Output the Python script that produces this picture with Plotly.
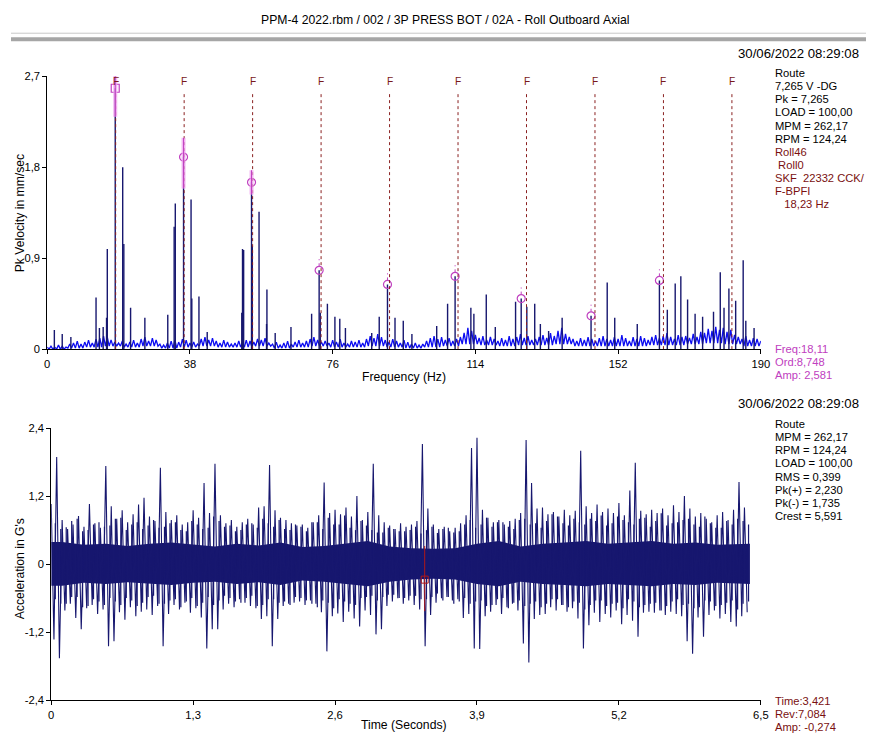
import plotly.graph_objects as go

# the page shows the figure at about (8, 13) and the photo comes out ~0.984 scale,
# so positions read off the reference are mapped through that
S = 0.984
SHIFT_X = 4
OFF_X, OFF_Y = 8, 13
FW, FH = 872, 742

title_text = "PPM-4 2022.rbm / 002 / 3P PRESS BOT / 02A - Roll Outboard Axial"
stamp = "30/06/2022 08:29:08"

# ---- spectrum (Pk velocity, mm/sec) ----
bpfi_hz = 18.23
harmonics = list(range(1, 11))

# noise floor tops, one per Hz (0..190)
floor_hi = [
    0.02, 0.03, 0.02, 0.04, 0.03, 0.02, 0.05, 0.06, 0.08, 0.05,
    0.07, 0.09, 0.06, 0.10, 0.11, 0.13, 0.12, 0.09, 0.07, 0.06,
    0.08, 0.05, 0.07, 0.09, 0.06, 0.10, 0.12, 0.08, 0.11, 0.09,
    0.05, 0.04, 0.06, 0.08, 0.09, 0.07, 0.10, 0.09, 0.06, 0.07,
    0.05, 0.10, 0.12, 0.09, 0.11, 0.08, 0.06, 0.09, 0.07, 0.05,
    0.06, 0.08, 0.07, 0.09, 0.08, 0.07, 0.10, 0.09, 0.11, 0.06,
    0.05, 0.07, 0.04, 0.06, 0.08, 0.05, 0.07, 0.09, 0.06, 0.08,
    0.10, 0.12, 0.09, 0.07, 0.08, 0.06, 0.09, 0.07, 0.10, 0.06,
    0.05, 0.08, 0.07, 0.09, 0.06, 0.10, 0.13, 0.11, 0.15, 0.12,
    0.09, 0.07, 0.10, 0.08, 0.06, 0.09, 0.07, 0.05, 0.06, 0.04,
    0.05, 0.08, 0.11, 0.13, 0.10, 0.12, 0.09, 0.11, 0.08, 0.10,
    0.12, 0.16, 0.21, 0.18, 0.14, 0.11, 0.13, 0.09, 0.12, 0.10,
    0.08, 0.11, 0.09, 0.13, 0.10, 0.12, 0.15, 0.11, 0.13, 0.09,
    0.10, 0.12, 0.14, 0.11, 0.16, 0.13, 0.18, 0.21, 0.15, 0.12,
    0.10, 0.08, 0.11, 0.09, 0.12, 0.10, 0.08, 0.11, 0.13, 0.10,
    0.09, 0.12, 0.10, 0.14, 0.11, 0.08, 0.12, 0.10, 0.13, 0.11,
    0.09, 0.12, 0.14, 0.11, 0.13, 0.16, 0.12, 0.10, 0.14, 0.12,
    0.13, 0.11, 0.15, 0.12, 0.17, 0.16, 0.20, 0.18, 0.22, 0.19,
    0.21, 0.17, 0.19, 0.14, 0.12, 0.10, 0.13, 0.09, 0.11, 0.10,
    0.08,
]
# noise floor dips, one per 5 Hz band
floor_lo = [
    0.00, 0.01, 0.02, 0.03, 0.02, 0.03, 0.01, 0.02, 0.03, 0.02,
    0.02, 0.03, 0.01, 0.02, 0.03, 0.02, 0.02, 0.03, 0.02, 0.01,
    0.02, 0.03, 0.05, 0.04, 0.03, 0.04, 0.04, 0.05, 0.03, 0.03,
    0.03, 0.03, 0.04, 0.04, 0.05, 0.06, 0.05, 0.03,
]

peak_freq = [1.9, 4.0, 6.3, 13.0, 13.9, 14.9, 15.8, 16.0, 18.11, 20.1,
             20.4, 22.2, 26.0, 32.1, 33.8, 34.1, 36.3, 38.3, 38.5, 40.4,
             42.6, 51.8, 52.0, 52.3, 54.4, 54.6, 56.4, 58.4, 58.5, 60.7,
             64.9, 70.4, 72.4, 72.7, 74.6, 76.6, 77.9, 79.4, 86.4, 88.4,
             90.6, 92.6, 94.8, 97.1, 103.7, 106.6, 108.6, 112.8, 113.6, 116.9,
             119.3, 124.7, 126.2, 127.7, 129.8, 131.3, 133.5, 137.1, 144.8, 149.1,
             151.1, 157.1, 163.0, 165.1, 167.2, 168.7, 170.5, 172.5, 174.5, 177.4,
             179.2, 180.2, 181.5, 183.3, 185.3, 186.0, 188.2]
peak_amp = [0.19, 0.15, 0.12, 0.51, 0.21, 0.22, 0.31, 0.99, 2.581, 1.80,
            1.04, 0.41, 0.31, 0.34, 1.21, 1.44, 1.90, 1.48, 0.50, 0.52,
            0.17, 0.36, 0.99, 0.98, 1.65, 1.02, 1.36, 0.25, 0.59, 0.16,
            0.22, 0.35, 0.78, 0.36, 0.45, 0.32, 0.30, 0.21, 0.16, 0.32,
            0.64, 0.31, 0.28, 0.15, 0.23, 0.45, 0.72, 0.41, 0.35, 0.54,
            0.22, 0.47, 0.50, 0.42, 0.45, 0.25, 0.18, 0.31, 0.33, 0.66,
            0.31, 0.25, 0.68, 0.39, 0.65, 0.72, 0.49, 0.35, 0.32, 0.37,
            0.76, 0.41, 0.60, 0.48, 0.88, 0.28, 0.21]

marker_freq = [18.11, 36.3, 54.4, 72.4, 90.6, 108.6, 126.2, 144.8, 163.0]
marker_amp = [2.581, 1.90, 1.65, 0.78, 0.64, 0.72, 0.50, 0.33, 0.68]
glow_lo = [2.30, 1.59, 1.53]
glow_hi = [2.75, 2.09, 1.77]

info_top = ["Route", "7,265 V -DG", "Pk = 7,265", "LOAD = 100,00",
            "MPM = 262,17", "RPM = 124,24"]
info_top_bearing = ["Roll46", " Roll0", "SKF  22332 CCK/", "F-BPFI", "   18,23 Hz"]
cursor_top = ["Freq:18,11", "Ord:8,748", "Amp: 2,581"]

# ---- time waveform (G's), extremes per 0.05 s ----
wave_step = 0.05
wave_hi = [
    1.06, 1.89, 0.78, 0.62, 0.70, 0.85, 0.66, 1.06, 0.72, 0.64,
    1.73, 1.02, 0.80, 0.95, 0.74, 0.88, 1.05, 1.17, 0.84, 0.76,
    1.70, 0.92, 0.78, 0.86, 0.70, 0.74, 0.95, 0.82, 1.43, 0.90,
    1.77, 0.86, 0.72, 0.78, 0.66, 0.74, 0.80, 0.70, 1.00, 1.02,
    1.75, 0.95, 0.82, 0.78, 0.72, 0.68, 0.70, 0.64, 0.74, 0.86,
    1.44, 0.90, 0.96, 0.88, 1.00, 0.84, 1.20, 0.78, 0.92, 1.77,
    0.86, 0.74, 0.68, 0.62, 0.72, 0.66, 0.70, 0.76, 2.12, 0.98,
    0.70, 0.62, 0.66, 0.58, 0.64, 0.72, 0.86, 2.05, 2.23, 0.96,
    0.82, 0.74, 0.78, 0.70, 0.76, 0.80, 0.90, 2.19, 1.43, 0.98,
    1.00, 0.88, 0.92, 0.84, 0.96, 0.86, 0.94, 2.00, 1.02, 0.90,
    1.05, 0.92, 0.98, 0.90, 1.08, 0.86, 1.30, 1.79, 0.94, 0.88,
    0.96, 0.90, 0.98, 0.86, 1.04, 0.92, 1.20, 0.98, 0.84, 0.90,
    0.80, 0.74, 0.86, 0.92, 0.78, 0.96, 1.45, 1.00,
]
wave_lo = [
    -1.33, -1.66, -0.82, -0.70, -0.95, -1.15, -0.78, -0.72, -0.88, -0.80,
    -1.45, -1.36, -0.85, -0.98, -0.76, -0.92, -0.84, -0.80, -0.90, -0.74,
    -1.45, -0.88, -0.72, -0.80, -0.68, -0.86, -0.78, -0.94, -1.49, -1.15,
    -1.15, -0.80, -0.70, -0.76, -0.62, -0.68, -0.74, -0.78, -0.97, -0.92,
    -1.45, -0.97, -0.74, -0.70, -0.68, -0.66, -0.72, -0.64, -0.70, -0.85,
    -1.54, -0.92, -0.87, -1.02, -0.84, -0.96, -1.10, -0.82, -0.90, -1.24,
    -1.15, -0.74, -0.66, -0.60, -0.70, -0.64, -0.72, -0.80, -1.45, -0.90,
    -0.68, -0.60, -0.58, -0.64, -0.62, -0.95, -0.88, -1.49, -1.50, -0.92,
    -0.84, -0.72, -0.88, -0.76, -0.70, -0.82, -1.40, -1.735, -0.97, -0.90,
    -0.88, -0.76, -0.82, -0.72, -0.84, -0.78, -0.96, -1.49, -1.08, -0.86,
    -1.02, -0.88, -0.94, -0.82, -1.06, -0.90, -1.00, -1.28, -0.86, -0.84,
    -0.86, -0.82, -0.90, -0.84, -0.88, -0.92, -1.36, -1.58, -0.94, -1.28,
    -0.90, -0.82, -0.96, -0.88, -1.02, -1.10, -0.92, -0.85,
]
# smaller in-between spikes, two per 0.1 s
sub_step = 0.1
sub_a_hi = [0.72, 0.65, 0.80, 0.60, 0.74, 0.68, 0.82, 0.70, 0.62, 0.78,
            0.66, 0.74, 0.58, 0.70, 0.64, 0.76, 0.68, 0.60, 0.72, 0.80,
            0.66, 0.62, 0.70, 0.58, 0.74, 0.82, 0.70, 0.64, 0.76, 0.60,
            0.56, 0.62, 0.58, 0.66, 0.60, 0.55, 0.64, 0.58, 0.78, 0.70,
            0.66, 0.74, 0.62, 0.80, 0.72, 0.76, 0.84, 0.68, 0.74, 0.80,
            0.86, 0.72, 0.78, 0.70, 0.82, 0.76, 0.68, 0.74, 0.80, 0.66,
            0.72, 0.64, 0.70, 0.76]
sub_a_lo = [-0.62, -0.70, -0.58, -0.74, -0.66, -0.60, -0.72, -0.64, -0.68, -0.56,
            -0.70, -0.62, -0.66, -0.74, -0.58, -0.64, -0.60, -0.68, -0.56, -0.72,
            -0.62, -0.66, -0.58, -0.64, -0.76, -0.68, -0.62, -0.70, -0.60, -0.56,
            -0.58, -0.54, -0.60, -0.56, -0.62, -0.52, -0.58, -0.66, -0.70, -0.64,
            -0.72, -0.60, -0.68, -0.74, -0.66, -0.70, -0.62, -0.76, -0.68, -0.72,
            -0.64, -0.70, -0.78, -0.66, -0.72, -0.68, -0.74, -0.62, -0.70, -0.76,
            -0.66, -0.72, -0.64, -0.70]
sub_b_hi = [0.62, 0.76, 0.58, 0.70, 0.66, 0.80, 0.60, 0.74, 0.68, 0.64,
            0.72, 0.60, 0.76, 0.62, 0.84, 0.66, 0.58, 0.70, 0.64, 0.72,
            0.78, 0.60, 0.66, 0.74, 0.62, 0.70, 0.86, 0.60, 0.68, 0.56,
            0.64, 0.58, 0.60, 0.54, 0.66, 0.62, 0.56, 0.70, 0.64, 0.82,
            0.74, 0.66, 0.78, 0.70, 0.64, 0.88, 0.72, 0.80, 0.70, 0.76,
            0.68, 0.84, 0.74, 0.80, 0.66, 0.90, 0.72, 0.78, 0.70, 0.84,
            0.64, 0.76, 0.80, 0.70]
sub_b_lo = [-0.70, -0.58, -0.76, -0.62, -0.72, -0.66, -0.60, -0.74, -0.58, -0.70,
            -0.64, -0.76, -0.60, -0.68, -0.72, -0.56, -0.66, -0.60, -0.74, -0.62,
            -0.68, -0.72, -0.60, -0.70, -0.64, -0.78, -0.66, -0.72, -0.58, -0.64,
            -0.54, -0.60, -0.56, -0.62, -0.58, -0.64, -0.70, -0.60, -0.66, -0.74,
            -0.62, -0.78, -0.64, -0.70, -0.76, -0.62, -0.72, -0.66, -0.80, -0.64,
            -0.74, -0.68, -0.62, -0.76, -0.70, -0.82, -0.66, -0.72, -0.78, -0.64,
            -0.74, -0.68, -0.80, -0.66]
# dense core of the waveform, per 0.2 s
core_step = 0.2
core_hi = [0.39, 0.34, 0.36, 0.32, 0.36, 0.38, 0.34, 0.31, 0.36, 0.33,
           0.38, 0.30, 0.32, 0.36, 0.41, 0.31, 0.28, 0.27, 0.28, 0.36,
           0.41, 0.31, 0.36, 0.38, 0.41, 0.36, 0.38, 0.41, 0.36, 0.38,
           0.34, 0.36]
core_lo = [-0.38, -0.33, -0.35, -0.32, -0.35, -0.37, -0.33, -0.31, -0.35, -0.32,
           -0.37, -0.29, -0.31, -0.35, -0.39, -0.31, -0.27, -0.26, -0.27, -0.35,
           -0.39, -0.31, -0.35, -0.37, -0.39, -0.35, -0.37, -0.39, -0.35, -0.37,
           -0.33, -0.35]

cursor_time = 3.421
cursor_amp = -0.274
cursor_span = [0.32, -0.83]

info_bot = ["Route", "MPM = 262,17", "RPM = 124,24", "LOAD = 100,00",
            "RMS = 0,399", "Pk(+) = 2,230", "Pk(-) = 1,735", "Crest = 5,591"]
cursor_bot = ["Time:3,421", "Rev:7,084", "Amp: -0,274"]

FONT = "Liberation Sans, Arial, sans-serif"
NAVY = "#17176f"
BLUE = "#0c0cf0"
MAG = "#c040c0"
DKRED = "#7a1010"


def px(p):
    return ((p - SHIFT_X) / S - OFF_X) / FW


def py(p):
    return 1 - (p / S - OFF_Y) / FH


def fs(size):
    return round(size / S, 1)


fig = go.Figure()

# spectrum floor: tops and dips in turn
fx, fy = [], []
for k in range(190):
    fx += [k, k + 0.5]
    fy += [floor_hi[k], floor_lo[k // 5]]
fx.append(190)
fy.append(floor_hi[190])
fig.add_trace(go.Scatter(x=fx, y=fy, mode="lines", line=dict(color=BLUE, width=1.3),
                         xaxis="x", yaxis="y", hoverinfo="skip"))

sx, sy = [], []
for f, a in zip(peak_freq, peak_amp):
    sx += [f, f, None]
    sy += [0, a, None]
fig.add_trace(go.Scatter(x=sx, y=sy, mode="lines", line=dict(color=NAVY, width=1.4),
                         xaxis="x", yaxis="y", hoverinfo="skip"))

# harmonic cursor lines
for n in harmonics:
    f = n * bpfi_hz
    fig.add_shape(type="line", xref="x", yref="y", x0=f, x1=f, y0=0, y1=2.53,
                  line=dict(color="#8a2020", width=1, dash="dot"))
    fig.add_annotation(x=f, y=py(80), xref="x", yref="paper", text="F", showarrow=False,
                       yanchor="middle", font=dict(family=FONT, size=fs(10), color="#7a1a1a"))

for lo, hi, f in zip(glow_lo, glow_hi, marker_freq):
    fig.add_shape(type="line", xref="x", yref="y", x0=f, x1=f, y0=lo, y1=hi,
                  line=dict(color="rgba(240,160,240,0.75)", width=4))
    fig.add_shape(type="line", xref="x", yref="y", x0=f, x1=f, y0=lo, y1=hi,
                  line=dict(color=MAG, width=1))
for f, a in zip(marker_freq[3:], marker_amp[3:]):
    fig.add_shape(type="line", xref="x", yref="y", x0=f, x1=f, y0=a + 0.04, y1=a + 0.11,
                  line=dict(color=MAG, width=1, dash="dot"))

fig.add_trace(go.Scatter(x=marker_freq, y=marker_amp, mode="markers",
                         marker=dict(symbol=["square-open"] + ["circle-open"] * 8,
                                     size=8, color=MAG, line=dict(width=1.2)),
                         xaxis="x", yaxis="y", hoverinfo="skip"))

# waveform core band
n_core = len(core_hi)
cx = [0] + [(i + 0.5) * core_step for i in range(n_core)] + [n_core * core_step]
fig.add_trace(go.Scatter(x=cx, y=core_lo[:1] + core_lo + core_lo[-1:], mode="lines",
                         line=dict(color=NAVY, width=0), xaxis="x2", yaxis="y2",
                         hoverinfo="skip"))
fig.add_trace(go.Scatter(x=cx, y=core_hi[:1] + core_hi + core_hi[-1:], mode="lines",
                         fill="tonexty", fillcolor=NAVY,
                         line=dict(color=NAVY, width=0), xaxis="x2", yaxis="y2",
                         hoverinfo="skip"))

bx, by = [], []
for shift, his, los in [(0.0375, sub_a_hi, sub_a_lo), (0.0875, sub_b_hi, sub_b_lo)]:
    for i, (hi, lo) in enumerate(zip(his, los)):
        t = i * sub_step + shift
        bx += [t, t, None]
        by += [lo, hi, None]
fig.add_trace(go.Scatter(x=bx, y=by, mode="lines", line=dict(color=NAVY, width=1.2),
                         xaxis="x2", yaxis="y2", hoverinfo="skip"))

wx, wy = [], []
for i, (hi, lo) in enumerate(zip(wave_hi, wave_lo)):
    wx += [i * wave_step, i * wave_step + wave_step / 2]
    wy += [hi, lo]
fig.add_trace(go.Scatter(x=wx, y=wy, mode="lines", line=dict(color=NAVY, width=1.1),
                         xaxis="x2", yaxis="y2", hoverinfo="skip"))

fig.add_shape(type="line", xref="x2", yref="y2", x0=cursor_time, x1=cursor_time,
              y0=cursor_span[1], y1=cursor_span[0], line=dict(color="#b01818", width=1))
fig.add_trace(go.Scatter(x=[cursor_time], y=[cursor_amp], mode="markers",
                         marker=dict(symbol="square-open", size=7, color="#b01818"),
                         xaxis="x2", yaxis="y2", hoverinfo="skip"))

# header rules
fig.add_shape(type="line", xref="paper", yref="paper", x0=0, x1=1, y0=py(32), y1=py(32),
              line=dict(color="#c8c8c8", width=1))
fig.add_shape(type="rect", xref="paper", yref="paper", x0=0, x1=1, y0=py(40), y1=py(36),
              line=dict(width=0), fillcolor="#a6a6a6")


def label(text, x, y, color="#000", size=11, xanchor="left", angle=0):
    fig.add_annotation(x=px(x), y=py(y), xref="paper", yref="paper",
                       text=text.replace(" ", "&nbsp;"), showarrow=False,
                       xanchor=xanchor, yanchor="middle", textangle=angle,
                       font=dict(family=FONT, size=fs(size), color=color))


def text_lines(lines, x, y0, color, step=13.1):
    for i, s in enumerate(lines):
        label(s, x, y0 + i * step, color)


label(title_text, 445, 19, size=12, xanchor="center")
label(stamp, 860, 52, size=13, xanchor="right")
label(stamp, 860, 402, size=13, xanchor="right")
text_lines(info_top, 772, 72, "#000")
text_lines(info_top_bearing, 772, 72 + 6 * 13.1, DKRED)
text_lines(cursor_top, 772, 348, MAG)
text_lines(info_bot, 772, 423, "#000")
text_lines(cursor_bot, 772, 700, DKRED)

# axis titles
label("Frequency (Hz)", 404, 376, size=12, xanchor="center")
label("Time (Seconds)", 404, 724, size=12, xanchor="center")
label("Pk Velocity in mm/sec", 21, 212, size=12, xanchor="center", angle=-90)
label("Acceleration in G's", 21, 568, size=12, xanchor="center", angle=-90)

axis_style = dict(showline=True, linecolor="#000", linewidth=1, ticks="outside", ticklen=4,
                  tickcolor="#000", showgrid=False, zeroline=False,
                  tickfont=dict(family=FONT, size=fs(11), color="#000"))

fig.update_layout(
    width=FW, height=FH, margin=dict(l=0, r=0, t=0, b=0),
    paper_bgcolor="white", plot_bgcolor="white", showlegend=False,
    xaxis=dict(domain=[px(48), px(760)], range=[0, 190], anchor="y",
               tickvals=[0, 38, 76, 114, 152, 190],
               ticktext=["0", "38", "76", "114", "152", "190"], **axis_style),
    yaxis=dict(domain=[py(348), py(75)], range=[0, 2.7], anchor="x",
               tickvals=[0, 0.9, 1.8, 2.7], ticktext=["0", "0,9", "1,8", "2,7"], **axis_style),
    xaxis2=dict(domain=[px(52), px(760)], range=[0, 6.5], anchor="y2",
                tickvals=[0, 1.3, 2.6, 3.9, 5.2, 6.5],
                ticktext=["0", "1,3", "2,6", "3,9", "5,2", "6,5"], **axis_style),
    yaxis2=dict(domain=[py(699), py(427)], range=[-2.4, 2.4], anchor="x2",
                tickvals=[-2.4, -1.2, 0, 1.2, 2.4],
                ticktext=["-2,4", "-1,2", "0", "1,2", "2,4"], **axis_style),
)

fig.write_html("out.html")
